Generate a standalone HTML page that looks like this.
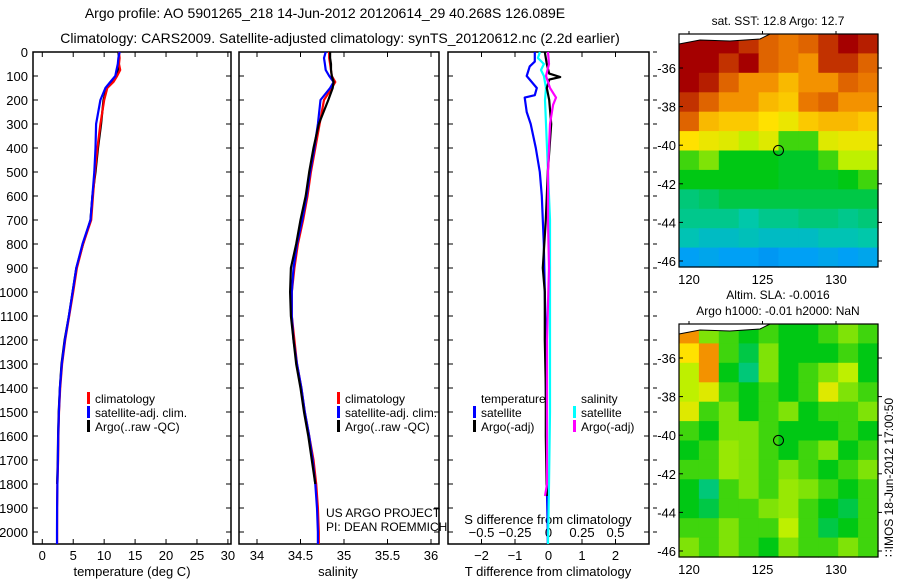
<!DOCTYPE html>
<html><head><meta charset="utf-8"><style>
html,body{margin:0;padding:0;background:#fff}
svg{display:block;font-family:"Liberation Sans",sans-serif}
text{fill:#000}
</style></head><body>
<svg id="fig" width="900" height="580" viewBox="0 0 900 580">
<text x="325" y="18" font-size="14" text-anchor="middle">Argo profile: AO 5901265_218 14-Jun-2012 20120614_29 40.268S 126.089E</text>
<text x="340" y="43" font-size="14" text-anchor="middle">Climatology: CARS2009. Satellite-adjusted climatology: synTS_20120612.nc (2.2d earlier)</text>
<g id="g"></g>
</svg>
<script>
// ---- data ----
const depthTicks=[0,100,200,300,400,500,600,700,800,900,1000,1100,1200,1300,1400,1500,1600,1700,1800,1900,2000];
const tempTicks=[0,5,10,15,20,25,30];
const salTicks=[34,34.5,35,35.5,36];
const salTickLabels=["34","34.5","35","35.5","36"];
const tdTicks=[-2,-1,0,1,2];
const sdTicks=[-0.5,-0.25,0,0.25,0.5];
const sdTickLabels=["\u22120.5","\u22120.25","0","0.25","0.5"];
const latTicks=[-36,-38,-40,-42,-44,-46];
const lonTicks=[120,125,130];

const depthP=[0,25,50,75,100,125,150,200,300,400,500,600,700,800,900,1000,1100,1200,1300,1400,1500,1600,1700,1800,1900,2000,2050];
const tempClim=[12.4,12.5,12.4,12.6,12.1,11.5,10.5,10.0,9.4,8.9,8.5,8.2,7.9,6.6,5.6,5.0,4.35,3.7,3.2,2.9,2.7,2.6,2.55,2.45,2.4,2.4,2.4];
const tempSat=[12.5,12.3,12.2,12.0,11.8,11.0,10.2,9.4,8.7,8.6,8.4,8.1,7.8,6.5,5.5,4.9,4.3,3.65,3.15,2.85,2.68,2.58,2.52,2.44,2.4,2.38,2.38];
const tempArgo=[12.3,12.4,12.3,12.2,11.9,11.1,10.4,9.9,9.5,9.0,8.6,8.1,7.8,6.6,5.5,4.9,4.3,3.6,3.1,2.85,2.65,2.55,2.5,2.4];
const salClim=[34.83,34.83,34.84,34.85,34.86,34.9,34.86,34.77,34.72,34.67,34.62,34.58,34.53,34.47,34.43,34.40,34.40,34.43,34.46,34.51,34.55,34.60,34.65,34.68,34.70,34.71,34.71];
const salSat=[34.79,34.77,34.78,34.79,34.83,34.88,34.84,34.73,34.70,34.66,34.61,34.57,34.52,34.46,34.42,34.40,34.40,34.42,34.46,34.51,34.55,34.60,34.64,34.67,34.69,34.70,34.70];
const salArgo=[34.84,34.84,34.85,34.85,34.86,34.88,34.87,34.82,34.71,34.65,34.60,34.56,34.50,34.45,34.39,34.38,34.39,34.42,34.45,34.50,34.54,34.59,34.63,34.67];

const dTempSatD=[0,40,60,100,150,180,190,250,300,400,500,600,800,1000,1200,1400,1600,1800,2000,2050];
const dTempSat=[-0.41,-0.41,-0.56,-0.65,-0.35,-0.41,-0.71,-0.65,-0.53,-0.38,-0.26,-0.2,-0.14,-0.11,-0.08,-0.08,-0.05,-0.05,-0.02,-0.02];
const dSalSatD=[0,25,50,75,100,150,200,300,500,700,900,1200,1500,1800,2050];
const dSalSat=[-0.064,-0.079,-0.034,-0.056,-0.034,-0.019,-0.026,-0.019,-0.004,0.011,0.011,0.011,0.011,0.004,-0.004];
const dTempArgoD=[0,25,50,90,104,115,150,200,300,500,700,900,1000,1200,1400,1600,1850];
const dTempArgo=[-0.11,-0.08,-0.05,0.02,0.35,0.02,-0.05,0.02,0.08,-0.02,-0.08,-0.17,-0.11,-0.11,-0.08,-0.08,-0.05];
const dSalArgoD=[0,50,100,150,190,220,300,500,700,900,1200,1500,1800,1850];
const dSalArgo=[-0.004,0.004,-0.019,0.011,0.056,0.034,0.011,-0.004,-0.004,0.004,-0.011,-0.011,-0.011,-0.026];

const sstGrid=[
[1,1,1,.95,.9,.88,.9,.95,1,.97],
[1,1,.95,1,.9,.88,.85,.95,.95,.9],
[1,.97,.9,.85,.85,.8,.85,.85,.9,.88],
[.95,.9,.85,.85,.8,.78,.88,.9,.85,.85],
[.9,.8,.78,.78,.75,.72,.78,.8,.8,.78],
[.75,.72,.7,.65,.7,.55,.55,.7,.72,.72],
[.55,.6,.5,.5,.5,.48,.48,.55,.65,.65],
[.5,.5,.5,.5,.5,.48,.48,.48,.5,.55],
[.4,.42,.45,.45,.45,.45,.45,.45,.45,.45],
[.38,.38,.38,.35,.38,.38,.4,.4,.38,.4],
[.33,.3,.3,.32,.3,.3,.3,.33,.33,.35],
[.2,.22,.2,.2,.18,.2,.2,.22,.2,.22]];
const slaGrid=[
[.85,.6,.55,.5,.55,.5,.5,.55,.6,.55],
[.75,.85,.55,.45,.6,.5,.5,.5,.55,.5],
[.65,.85,.5,.4,.6,.5,.55,.6,.65,.5],
[.65,.7,.55,.5,.55,.5,.55,.7,.6,.55],
[.7,.55,.6,.5,.55,.6,.5,.55,.55,.6],
[.55,.5,.6,.6,.55,.5,.5,.5,.55,.5],
[.5,.55,.62,.6,.55,.5,.55,.6,.5,.55],
[.55,.55,.62,.6,.55,.6,.55,.5,.55,.6],
[.5,.4,.55,.6,.55,.62,.6,.55,.5,.55],
[.5,.45,.55,.55,.6,.62,.55,.5,.45,.55],
[.55,.55,.6,.55,.55,.65,.55,.45,.5,.55],
[.6,.55,.6,.55,.5,.6,.55,.55,.6,.55]];
const floatLon=126.089, floatLat=-40.268;

// ---- drawing ----
const NS="http://www.w3.org/2000/svg";
const G=document.getElementById('g');
function el(tag,attrs,parent){const e=document.createElementNS(NS,tag);for(const k in attrs)e.setAttribute(k,attrs[k]);(parent||G).appendChild(e);return e;}
function txt(x,y,s,size,anchor,parent){const t=el('text',{x:x,y:y,'font-size':size,'text-anchor':anchor||'middle'},parent);t.textContent=s;return t;}
const Y0=52,Y1=544;
const yD=d=>Y0+d*0.24;
function lin(d0,d1,p0,p1){return v=>p0+(v-d0)/(d1-d0)*(p1-p0);}
const xT=lin(-1.5,30.5,33,231);
const xS=lin(34,36,257,431);
const xTd=lin(-3,3,448,649);
const xSd=v=>xTd(v*4);

function panel(name,x0,x1){
  const r=el('rect',{x:x0,y:Y0,width:x1-x0,height:Y1-Y0,fill:'#fff',stroke:'#000','stroke-width':1.5});
  
  
}
function line(name,xs,ds,xf,color,w){
  let p='';for(let i=0;i<xs.length;i++)p+=(i?'L':'M')+xf(xs[i]).toFixed(1)+','+yD(ds[i]).toFixed(1);
  const e=el('path',{d:p,fill:'none',stroke:color,'stroke-width':w||2.2,'stroke-linejoin':'round'});
  
  
}
panel('temperature-panel',33,231);
panel('salinity-panel',239,439);
panel('difference-panel',448,649);

const yl=el('g',{});


depthTicks.forEach(d=>{
  txt(28,yD(d)+5,String(d),13,'end',yl);
  [[33,38],[231,226],[239,244],[439,434],[448,453],[649,644],[653,657]].forEach(([a,b])=>el('line',{x1:a,x2:b,y1:yD(d),y2:yD(d),stroke:'#000'},yl));
});
function xaxis(name,ticks,labels,f,ly,tickTop){
  const g=el('g',{});
  
  
  ticks.forEach((t,i)=>{const x=f(t);
    el('line',{x1:x,x2:x,y1:Y1,y2:Y1-5,stroke:'#000'},g);
    if(tickTop)el('line',{x1:x,x2:x,y1:Y0,y2:Y0+5,stroke:'#000'},g);
    txt(x,ly,labels[i],13,'middle',g);});
}
xaxis('temperature-x-axis',tempTicks,tempTicks.map(String),xT,560,true);
xaxis('salinity-x-axis',salTicks,salTickLabels,xS,560,true);
xaxis('t-difference-x-axis',tdTicks,tdTicks.map(v=>v<0?'\u2212'+(-v):String(v)),xTd,560,true);
const sg=el('g',{});


sdTicks.forEach((t,i)=>{txt(xSd(t),537,sdTickLabels[i],13,'middle',sg);});
txt(132,576,'temperature (deg C)',13);
txt(338,576,'salinity',13);
txt(548,576,'T difference from climatology',13);
txt(548,524,'S difference from climatology',13);
txt(326,517,'US ARGO PROJECT',12,'start');
txt(326,531,'PI: DEAN ROEMMICH',12,'start');

line('temp-argo-line',tempArgo,depthP.slice(0,tempArgo.length),xT,'#000');
line('temp-climatology-line',tempClim,depthP,xT,'#f00');
line('temp-satellite-line',tempSat,depthP,xT,'#00f');
line('sal-climatology-line',salClim,depthP,xS,'#f00');
line('sal-satellite-line',salSat,depthP,xS,'#00f');
line('sal-argo-line',salArgo,depthP.slice(0,salArgo.length),xS,'#000');
line('tdiff-satellite-line',dTempSat,dTempSatD,xTd,'#00f');
line('sdiff-satellite-line',dSalSat,dSalSatD,xSd,'#0ff');
line('tdiff-argo-line',dTempArgo,dTempArgoD,xTd,'#000');
line('sdiff-argo-line',dSalArgo,dSalArgoD,xSd,'#f0f');

function legend(name,x,y,color,label){
  const g=el('g',{});
  
  
  el('rect',{x:x,y:y-11,width:3,height:12,fill:color},g);
  txt(x+8,y,label,12,'start',g);
}
legend('legend-climatology',87,403,'#f00','climatology');
legend('legend-satellite-adj',87,417,'#00f','satellite-adj. clim.');
legend('legend-argo',87,431,'#000','Argo(..raw -QC)');
legend('legend-sal-climatology',337,403,'#f00','climatology');
legend('legend-sal-satellite-adj',337,417,'#00f','satellite-adj. clim.');
legend('legend-sal-argo',337,431,'#000','Argo(..raw -QC)');
txt(481,403,'temperature',12,'start');
txt(581,403,'salinity',12,'start');
legend('legend-t-satellite',473,417,'#00f','satellite');
legend('legend-t-argo',473,431,'#000','Argo(-adj)');
legend('legend-s-satellite',573,417,'#0ff','satellite');
legend('legend-s-argo',573,431,'#f0f','Argo(-adj)');

const stops=[[0,[0,70,220]],[0.2,[0,160,245]],[0.35,[0,200,170]],[0.5,[0,200,20]],[0.65,[190,240,0]],[0.75,[255,225,0]],[0.87,[240,130,0]],[1,[165,0,0]]];
function cmap(v){for(let i=1;i<stops.length;i++){if(v<=stops[i][0]){const [a,ca]=stops[i-1],[b,cb]=stops[i];const t=(v-a)/(b-a);return 'rgb('+ca.map((c,j)=>Math.round(c+(cb[j]-c)*t)).join(',')+')';}}return 'rgb(165,0,0)';}
const MX0=679,MX1=878;
const lonX=lin(120,130,689,836);
function map(name,top,grid,t1,t2){
  const bot=top+233;
  const latY=lin(-36,-46,top+34,top+227);
  const g=el('g',{});
  
  
  const rows=grid.length,cols=grid[0].length,cw=(MX1-MX0)/cols,ch=(bot-top)/rows;
  grid.forEach((row,r)=>row.forEach((v,c)=>{
    const cell=el('rect',{x:(MX0+c*cw).toFixed(1),y:(top+r*ch).toFixed(1),width:(cw+0.6).toFixed(1),height:(ch+0.6).toFixed(1),fill:cmap(v)},g);
    
    
  }));
  el('path',{d:`M${MX0},${top}L${MX0},${top+10}L700,${top+6}L730,${top+7}L760,${top+5}L770,${top}Z`,fill:'#fff'},g);
  el('path',{d:`M${MX0},${top+10}L700,${top+6}L730,${top+7}L760,${top+5}L770,${top}`,fill:'none',stroke:'#000'},g);
  el('rect',{x:MX0,y:top,width:MX1-MX0,height:bot-top,fill:'none',stroke:'#000','stroke-width':1.2},g);
  latTicks.forEach(l=>{const y=latY(l);txt(676,y+5,String(l),13,'end',g);el('line',{x1:MX1,x2:MX1+4,y1:y,y2:y,stroke:'#000'},g);el('line',{x1:MX0,x2:MX0+4,y1:y,y2:y,stroke:'#000'},g);});
  lonTicks.forEach(l=>{const x=lonX(l);txt(x,bot+17,String(l),13,'middle',g);el('line',{x1:x,x2:x,y1:top,y2:top-3,stroke:'#000'},g);});
  const m=el('circle',{cx:lonX(floatLon),cy:latY(floatLat),r:5,fill:'none',stroke:'#000'},g);
  
  
  txt(778,top-9,t1,12,'middle',g);
  if(t2){g.lastChild.setAttribute('y',top-25);txt(778,top-9,t2,12,'middle',g);}
}
map('sst-map',34,sstGrid,'sat. SST: 12.8 Argo: 12.7');
map('sla-map',324,slaGrid,'Altim. SLA: -0.0016','Argo h1000: -0.01 h2000: NaN');
const st=txt(0,0,'\u2237IMOS 18-Jun-2012 17:00:50',12,'start');
st.setAttribute('transform','translate(893,557) rotate(-90)');


</script>
</body></html>
